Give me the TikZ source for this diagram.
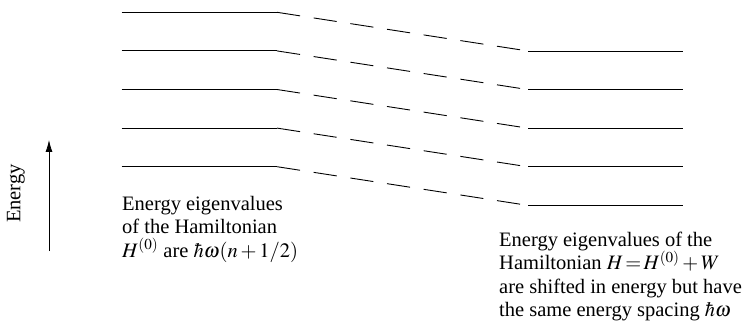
\documentclass[tikz,border=0pt]{standalone}
\usepackage{mathptmx}
\usepackage{fontspec}
\setmainfont{Liberation Serif}
\usetikzlibrary{arrows.meta}
\begin{document}
\begin{tikzpicture}[x=1pt,y=1pt,
  level/.style={line width=0.9pt},
  shiftline/.style={line width=0.9pt, dash pattern=on 23.3pt off 13.8pt},
  txt/.style={font=\fontsize{20.5}{23.5}\selectfont, inner sep=0pt, align=left}]
\useasboundingbox (0,0) rectangle (753,-326);
\foreach \i in {0,...,4}{
  \pgfmathsetmacro\yl{-12.3-38.6*\i}
  \pgfmathsetmacro\yr{\yl-38.7}
  \coordinate (La\i) at (121.7,\yl);
  \coordinate (Lb\i) at (277,\yl);
  \coordinate (Ra\i) at (528,\yr);
  \coordinate (Rb\i) at (683,\yr);
  \draw[level] (La\i) -- (Lb\i);
  \draw[shiftline] (Lb\i) -- (Ra\i);
  \draw[level] (Ra\i) -- (Rb\i);
}
\coordinate (ea) at (49,-251);
\coordinate (eb) at (49,-140);
\draw[line width=0.8pt, -{Latex[length=12pt,width=7pt]}] (ea) -- (eb);
\node[txt, rotate=90] (elabel) at (16,-193.5) {Energy};
\node[txt, anchor=base west] (lefttext) at (122,-257)
  {Energy eigenvalues\\of the Hamiltonian\\$H^{(0)}$ are $\hbar\omega(n+1/2)$};
\node[txt, anchor=base west] (righttext) at (499,-316.5)
  {Energy eigenvalues of the\\Hamiltonian $H\!=\!H^{(0)}+W$\\are shifted in energy but have\\the same energy spacing $\hbar\omega$};
\end{tikzpicture}
\end{document}
